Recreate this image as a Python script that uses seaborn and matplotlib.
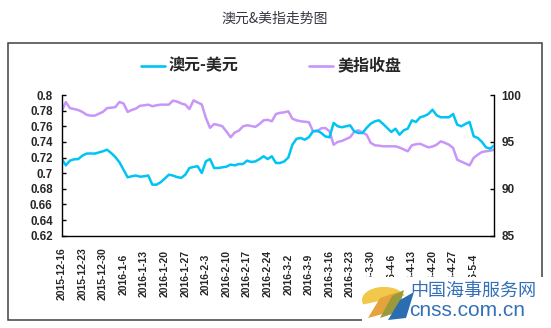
import numpy as np
import pandas as pd
import matplotlib
matplotlib.use("Agg")
import matplotlib.pyplot as plt
import seaborn as sns
from matplotlib.lines import Line2D
from matplotlib.patches import Rectangle, Polygon, Wedge

# AUD/USD daily close (left axis)
aud = [0.7185, 0.7100, 0.7160, 0.7177, 0.7180, 0.7223, 0.7250, 0.7252, 0.7250, 0.7265,
       0.7280, 0.7300, 0.7258, 0.7207, 0.7140, 0.7045, 0.6947, 0.6960, 0.6970, 0.6955,
       0.6960, 0.6970, 0.6853, 0.6853, 0.6883, 0.6930, 0.6980, 0.6970, 0.6950, 0.6940,
       0.6980, 0.7066, 0.7080, 0.7088, 0.7002, 0.7152, 0.7180, 0.7066, 0.7066, 0.7075,
       0.7083, 0.7110, 0.7100, 0.7117, 0.7117, 0.7160, 0.7143, 0.7150, 0.7180, 0.7216,
       0.7180, 0.7216, 0.7130, 0.7130, 0.7150, 0.7200, 0.7364, 0.7440, 0.7450, 0.7428,
       0.7460, 0.7535, 0.7545, 0.7514, 0.7470, 0.7459, 0.7642, 0.7600, 0.7587, 0.7600,
       0.7612, 0.7535, 0.7514, 0.7514, 0.7580, 0.7633, 0.7663, 0.7676, 0.7630, 0.7578,
       0.7527, 0.7569, 0.7492, 0.7548, 0.7570, 0.7676, 0.7655, 0.7715, 0.7730, 0.7757,
       0.7812, 0.7740, 0.7715, 0.7715, 0.7715, 0.7757, 0.7620, 0.7600, 0.7630, 0.7655,
       0.7472, 0.7450, 0.7400, 0.7330, 0.7314, 0.7356]

# US dollar index daily close (right axis)
dxy = [98.30, 99.25, 98.60, 98.50, 98.40, 98.20, 97.90, 97.80, 97.80, 98.00,
       98.20, 98.60, 98.65, 98.70, 99.25, 99.10, 98.20, 98.40, 98.55, 98.85,
       98.90, 98.97, 98.80, 98.90, 98.97, 98.97, 98.97, 99.40, 99.30, 99.10,
       98.97, 98.50, 99.43, 99.20, 99.00, 97.55, 96.50, 96.90, 96.80, 96.66,
       96.10, 95.50, 96.00, 96.20, 96.66, 96.77, 96.70, 96.60, 96.90, 97.30,
       97.35, 97.20, 97.97, 98.10, 98.15, 98.26, 97.47, 97.30, 97.20, 97.15,
       97.10, 96.13, 96.13, 96.45, 96.48, 96.13, 94.70, 95.00, 95.10, 95.30,
       95.50, 96.06, 96.24, 96.00, 95.77, 94.90, 94.64, 94.60, 94.53, 94.53,
       94.53, 94.53, 94.40, 94.20, 94.00, 94.64, 94.75, 94.80, 94.60, 94.42,
       94.50, 94.70, 95.06, 94.90, 94.70, 94.35, 93.10, 92.90, 92.70, 92.50,
       93.30, 93.64, 93.92, 94.00, 94.06, 94.17]

date_labels = ["2015-12-16", "2015-12-23", "2015-12-30", "2016-1-6", "2016-1-13",
               "2016-1-20", "2016-1-27", "2016-2-3", "2016-2-10", "2016-2-17",
               "2016-2-24", "2016-3-2", "2016-3-9", "2016-3-16", "2016-3-23",
               "2016-3-30", "2016-4-6", "2016-4-13", "2016-4-20", "2016-4-27",
               "2016-5-4"]

left_ticks = [0.62, 0.64, 0.66, 0.68, 0.70, 0.72, 0.74, 0.76, 0.78, 0.80]
right_ticks = [85, 90, 95, 100]

title = "澳元&美指走势图"
name_aud = "澳元-美元"
name_dxy = "美指收盘"

c_aud = "#00c4f4"
c_dxy = "#c896f8"

sns.set_style("white")
plt.rcParams["font.family"] = ["Liberation Sans", "Noto Sans CJK SC", "DejaVu Sans"]

df = pd.DataFrame({"day": np.arange(len(aud)), "aud": aud, "dxy": dxy})

W, H = 551, 328
fig = plt.figure(figsize=(W / 100, H / 100), dpi=100)
fig.patch.set_facecolor("white")

def fx(px):
    return px / W

def fy(py):
    return 1 - py / H

ax = fig.add_axes([fx(61.7), fy(235.7), fx(494.3 - 61.7), (235.7 - 95) / H])
ax2 = ax.twinx()

sns.lineplot(data=df, x="day", y="aud", ax=ax, color=c_aud, linewidth=1.8, legend=False)
sns.lineplot(data=df, x="day", y="dxy", ax=ax2, color=c_dxy, linewidth=1.8, legend=False)
ax2.set_zorder(ax.get_zorder() - 1)
ax.patch.set_visible(False)

ax.set_xlim(0, len(aud) - 1)
ax.set_ylim(0.62, 0.80)
ax2.set_ylim(85, 100)

ax.set_xticks(np.arange(0, 5 * len(date_labels), 5))
ax.set_xticklabels(date_labels, rotation=90, va="center", ha="center",
                   fontsize=7.5, fontweight="bold")
ax.set_yticks(left_ticks)
ax.set_yticklabels([f"{v:g}" for v in left_ticks], fontsize=8.3, fontweight="bold")
ax2.set_yticks(right_ticks)
ax2.set_yticklabels([str(v) for v in right_ticks], fontsize=8.5, fontweight="bold")

ax.tick_params(axis="x", direction="in", length=3, width=1, pad=27.5, color="black")
ax.tick_params(axis="y", direction="in", length=3, width=1, pad=6.5, color="black")
ax2.tick_params(axis="y", direction="in", length=3, width=1, pad=5, color="black")

for a in (ax, ax2):
    a.set_xlabel("")
    a.set_ylabel("")
    a.grid(False)
    a.spines["top"].set_visible(False)
    for s in ("left", "right", "bottom"):
        a.spines[s].set_color("black")
        a.spines[s].set_linewidth(1)
ax.spines["right"].set_visible(False)
ax2.spines["left"].set_visible(False)
ax2.spines["bottom"].set_visible(False)

# chart frame
fig.patches.append(Rectangle((fx(7.7), fy(320)), fx(542 - 7.7), (320 - 43) / H,
                             transform=fig.transFigure, fill=False,
                             edgecolor="#404040", linewidth=1.1, zorder=0))

fig.text(fx(275), fy(18.5), title, ha="center", va="center", fontsize=10,
         color="#3a3440", family=["Noto Sans CJK SC", "DejaVu Sans"])

# legend
ly = fy(65.7)
fig.lines.append(Line2D([fx(140.5), fx(165)], [ly, ly], transform=fig.transFigure,
                        color=c_aud, linewidth=1.9))
fig.text(fx(168.5), ly, name_aud, ha="left", va="center", fontsize=11.5,
         fontweight="bold", family=["Noto Sans CJK SC", "DejaVu Sans"])
fig.lines.append(Line2D([fx(309), fx(333)], [ly, ly], transform=fig.transFigure,
                        color=c_dxy, linewidth=1.9))
fig.text(fx(338), ly, name_dxy, ha="left", va="center", fontsize=11.5,
         fontweight="bold", family=["Noto Sans CJK SC", "DejaVu Sans"])

# site mark in the lower right corner, on a white backing
fig.patches.append(Rectangle((fx(362), 0), fx(W - 362), (H - 277) / H,
                             transform=fig.transFigure, facecolor="white",
                             edgecolor="none", zorder=5))
fig.patches.append(Wedge((fx(384), fy(300)), fx(22), 20, 200,
                         transform=fig.transFigure, facecolor="#f2c84b",
                         edgecolor="none", zorder=6))
fig.patches.append(Polygon([(fx(368), fy(318)), (fx(380), fy(298)), (fx(398), fy(292)),
                            (fx(390), fy(312))], closed=True, transform=fig.transFigure,
                           facecolor="#e6a23c", edgecolor="none", zorder=7))
fig.patches.append(Polygon([(fx(380), fy(318)), (fx(392), fy(296)), (fx(404), fy(290)),
                            (fx(398), fy(312))], closed=True, transform=fig.transFigure,
                           facecolor="#9a9a3a", edgecolor="none", zorder=8))
fig.patches.append(Polygon([(fx(388), fy(320)), (fx(400), fy(300)), (fx(414), fy(292)),
                            (fx(406), fy(318))], closed=True, transform=fig.transFigure,
                           facecolor="#2a6db0", edgecolor="none", zorder=9))
fig.text(fx(410), fy(291), "中国海事服务网", ha="left", va="center", fontsize=13,
         color="#3470b8", family=["Noto Sans CJK SC", "DejaVu Sans"], zorder=10)
fig.text(fx(409), fy(310), "cnss.com.cn", ha="left", va="center", fontsize=15,
         color="#3470b8", family=["Liberation Sans", "DejaVu Sans"], zorder=10)

fig.savefig("out.png", dpi=100, facecolor="white")
